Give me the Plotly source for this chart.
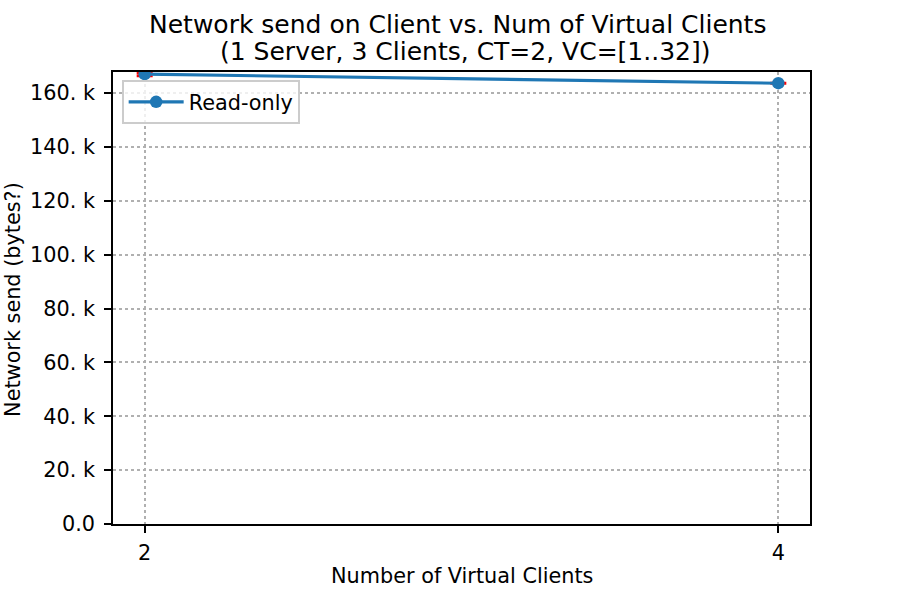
import plotly.graph_objects as go

virtual_clients = [2, 4]
network_send = [167000, 163650]
network_send_err = [600, 0]
y_tick_vals = [0, 20000, 40000, 60000, 80000, 100000, 120000, 140000, 160000]
y_tick_text = ["0.0", "20. k", "40. k", "60. k", "80. k", "100. k", "120. k", "140. k", "160. k"]
x_tick_vals = [2, 4]
series_name = "Read-only"

FONT = "DejaVu Sans"
FS = 20.8

fig = go.Figure()
fig.add_trace(go.Scatter(
    x=virtual_clients, y=network_send, name=series_name,
    mode="lines+markers",
    line=dict(color="#1f77b4", width=3.1),
    marker=dict(color="#1f77b4", size=12.5),
    error_y=dict(type="data", array=network_send_err, color="red", thickness=3, width=8),
    cliponaxis=True,
))

axis_common = dict(
    showline=True, linecolor="black", linewidth=1.67, mirror=True,
    ticks="outside", ticklen=7, tickcolor="black", tickwidth=1.67,
    showgrid=True, gridcolor="#b0b0b0", griddash="dot", gridwidth=1.67,
    zeroline=False, tickfont=dict(family=FONT, size=FS, color="black"),
)

fig.update_layout(
    width=900, height=600,
    margin=dict(l=113, r=90, t=72, b=76),
    paper_bgcolor="white", plot_bgcolor="white",
    font=dict(family=FONT, color="black"),
    showlegend=True,
    legend=dict(
        x=0.0129, y=0.982, xanchor="left", yanchor="top",
        bgcolor="rgba(255,255,255,0.8)", bordercolor="#cccccc", borderwidth=1.67,
        font=dict(family=FONT, size=FS, color="black"), itemwidth=55,
    ),
    xaxis=dict(range=[1.9, 4.1], tickvals=x_tick_vals, ticktext=[str(v) for v in x_tick_vals],
               ticklabelstandoff=2, **axis_common),
    yaxis=dict(range=[0, 167800], tickvals=y_tick_vals, ticktext=y_tick_text,
               ticklabelstandoff=5, **axis_common),
    annotations=[
        dict(text="Network send on Client vs. Num of Virtual Clients", x=0.494, y=1.106,
             xref="paper", yref="paper", xanchor="center", yanchor="middle", showarrow=False,
             font=dict(family=FONT, size=25, color="black")),
        dict(text="(1 Server, 3 Clients, CT=2, VC=[1..32])", x=0.5057, y=1.046,
             xref="paper", yref="paper", xanchor="center", yanchor="middle", showarrow=False,
             font=dict(family=FONT, size=25, color="black")),
        dict(text="Number of Virtual Clients", x=0.5, y=-0.115,
             xref="paper", yref="paper", xanchor="center", yanchor="middle", showarrow=False,
             font=dict(family=FONT, size=FS, color="black")),
        dict(text="Network send (bytes?)", x=-0.1435, y=0.498, textangle=-90,
             xref="paper", yref="paper", xanchor="center", yanchor="middle", showarrow=False,
             font=dict(family=FONT, size=FS, color="black")),
    ],
)

fig.write_html("out.html")
